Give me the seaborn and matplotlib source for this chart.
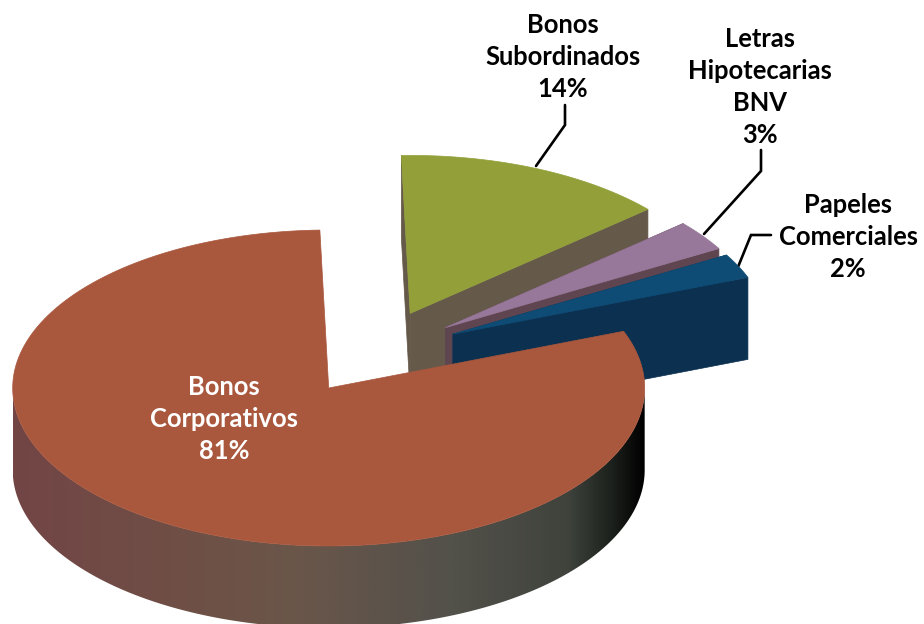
# -*- coding: utf-8 -*-
import matplotlib
matplotlib.use('Agg')
import matplotlib.pyplot as plt
from matplotlib.colors import LinearSegmentedColormap
import numpy as np
import seaborn as sns

# shares, the labels show them rounded
names = ['Bonos\nCorporativos', 'Bonos\nSubordinados', 'Letras\nHipotecarias\nBNV', 'Papeles\nComerciales']
values = [80.4, 14.0, 3.1, 2.5]
labels = ['81%', '14%', '3%', '2%']

top_colors = ['#a9573d', '#93a03a', '#98789a', '#0f4c75']
wall_colors = ['#6a564a', '#65594a', '#5f4550', '#0b3050']
main_wall_stops = [(0.0, '#734545'), (0.3, '#6e5046'), (0.45, '#6a564a'), (0.7, '#52514a'),
                   (0.88, '#3f433c'), (0.95, '#1c201c'), (1.0, '#000000')]

# pie geometry in pixels
center_x, center_y = 376, 352.5
radius_x, radius_y = 316, 158
depth = 82
explode = 0.27
first_angle = 91.6

text_xy = [(224, 419), (563, 57), (760, 87), (848, 237)]
text_colors = ['white', 'black', 'black', 'black']
leaders = [
    ([536, 565, 565], [166, 125, 105]),
    ([704, 761, 761], [234, 171, 150]),
    ([738, 751, 771], [267, 235, 235]),
]


def arc(cx, cy, start, stop, n=200):
    t = np.radians(np.linspace(start, stop, n))
    return cx + radius_x * np.cos(t), cy - radius_y * np.sin(t)


def slice_angles():
    # first slice runs counter clockwise, the others clockwise from its start
    sweeps = np.array(values) * 3.6
    angles = [(first_angle, first_angle + sweeps[0])]
    a = first_angle
    for s in sweeps[1:]:
        angles.append((a - s, a))
        a -= s
    return angles


sns.set_theme(style='white')
plt.rcParams['font.family'] = ['Lato', 'DejaVu Sans']

fig = plt.figure(figsize=(9.24, 6.24), dpi=100)
ax = fig.add_axes([0, 0, 1, 1])
ax.axis('off')

angles = slice_angles()

# back slices first, the big one goes on top of them
for order, i in enumerate([1, 2, 3, 0]):
    z = 10 * (order + 1)
    start, stop = angles[i]
    mid = np.radians((start + stop) / 2)
    cx = center_x + explode * radius_x * np.cos(mid)
    cy = center_y - explode * radius_y * np.sin(mid)
    xs, ys = arc(cx, cy, start, stop)

    if i == 0:
        wx, wy = arc(cx, cy, 180, 360)
        poly_x = np.r_[wx, wx[::-1]]
        poly_y = np.r_[wy, wy[::-1] + depth]
        cmap = LinearSegmentedColormap.from_list('wall', main_wall_stops)
        img = ax.imshow(np.linspace(0, 1, 512).reshape(1, -1), cmap=cmap, aspect='auto',
                        extent=(poly_x.min(), poly_x.max(), poly_y.max(), poly_y.min()), zorder=z)
        patch = ax.fill(poly_x, poly_y, color='none', zorder=z)[0]
        img.set_clip_path(patch)
    else:
        # the two cut faces
        for k in [0, -1]:
            ax.fill([cx, xs[k], xs[k], cx], [cy, ys[k], ys[k] + depth, cy + depth],
                    color=wall_colors[i], lw=0.5, zorder=z)

    ax.fill(np.r_[cx, xs], np.r_[cy, ys], color=top_colors[i], lw=0.5, zorder=z + 1)
    x, y = text_xy[i]
    ax.text(x, y, names[i] + '\n' + labels[i], color=text_colors[i], ha='center', va='center',
            fontsize=18.4, fontweight='bold', linespacing=1.4, zorder=60)

for lx, ly in leaders:
    ax.plot(lx, ly, color='black', lw=1.9, zorder=5, solid_joinstyle='miter')

ax.set_xlim(0, 924)
ax.set_ylim(624, 0)
fig.savefig('out.png', dpi=100, facecolor='white')
